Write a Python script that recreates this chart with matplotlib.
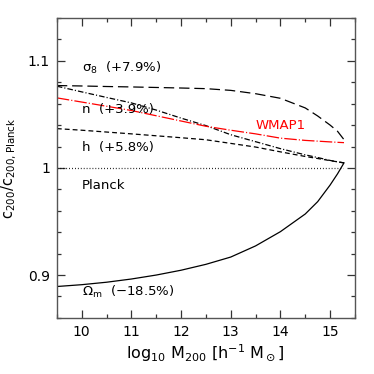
import numpy as np
import matplotlib
matplotlib.use('Agg')
import matplotlib.pyplot as plt
from matplotlib.ticker import MultipleLocator

plt.rcParams['font.family'] = 'DejaVu Sans'
plt.rcParams['mathtext.fontset'] = 'dejavusans'
plt.rcParams['mathtext.default'] = 'regular'
plt.rcParams['lines.scale_dashes'] = False

# log10 M200 grid
logm = [9.5, 10.0, 10.5, 11.0, 11.5, 12.0, 12.5, 13.0, 13.5, 14.0, 14.5, 14.75, 15.0, 15.15, 15.28]

# c200 / c200,Planck for each variation
sigma8 = [1.0769, 1.0765, 1.0760, 1.0756, 1.0751, 1.0746, 1.0740, 1.0724, 1.0693, 1.0650, 1.0560, 1.0485, 1.0400, 1.0342, 1.0264]
n_s    = [1.0763, 1.0710, 1.0658, 1.0607, 1.0540, 1.0465, 1.0395, 1.0310, 1.0245, 1.0180, 1.0122, 1.0097, 1.0070, 1.0057, 1.0047]
wmap1  = [1.0654, 1.0615, 1.0576, 1.0536, 1.0487, 1.0438, 1.0389, 1.0352, 1.0318, 1.0278, 1.0257, 1.0250, 1.0243, 1.0239, 1.0236]
h_par  = [1.0367, 1.0352, 1.0335, 1.0318, 1.0300, 1.0282, 1.0263, 1.0229, 1.0195, 1.0150, 1.0107, 1.0088, 1.0068, 1.0057, 1.0047]
omegam = [0.8893, 0.8910, 0.8933, 0.8963, 0.9000, 0.9045, 0.9100, 0.9168, 0.9272, 0.9405, 0.9570, 0.9685, 0.9840, 0.9945, 1.0047]

planck_x = [9.5, 15.25]
planck_y = [1.0, 1.0]

fig = plt.figure(figsize=(3.74, 3.74), dpi=100)
ax = fig.add_axes([0.152, 0.150, 0.797, 0.802])

lw = 0.9
ax.plot(planck_x, planck_y, color='k', lw=lw, dashes=(0.6, 1.5))
ax.plot(logm, sigma8, color='k', lw=lw, dashes=(7.5, 3.5))
ax.plot(logm, n_s, color='k', lw=lw, dashes=(4, 1.5, 0.8, 1.5))
ax.plot(logm, h_par, color='k', lw=lw, dashes=(3.5, 2.2))
ax.plot(logm, wmap1, color='red', lw=lw, dashes=(9, 1.5, 0.8, 1.5))
ax.plot(logm, omegam, color='k', lw=lw)

fs = 9.5
ax.text(10.0, 1.0937, r'$\sigma_8$  (+7.9%)', fontsize=fs, va='center')
ax.text(10.0, 1.0545, r'n  (+3.9%)', fontsize=fs, va='center')
ax.text(10.0, 1.0190, r'h  (+5.8%)', fontsize=fs, va='center')
ax.text(10.0, 0.9840, 'Planck', fontsize=fs, va='center')
ax.text(10.0, 0.8840, r'$\Omega_m$  ($-$18.5%)', fontsize=fs, va='center')
ax.text(13.5, 1.0395, 'WMAP1', fontsize=fs, va='center', color='red')

ax.set_xlim(9.5, 15.5)
ax.set_ylim(0.86, 1.14)
ax.xaxis.set_major_locator(MultipleLocator(1))
ax.xaxis.set_minor_locator(MultipleLocator(0.5))
ax.yaxis.set_minor_locator(MultipleLocator(0.02))
ax.set_yticks([0.9, 1.0, 1.1])
ax.set_yticklabels(['0.9', '1', '1.1'])
ax.tick_params(which='both', direction='in', top=True, right=True, labelsize=fs + 0.5, color='#333333')
ax.tick_params(which='major', length=6, width=0.9, pad=5)
ax.tick_params(which='minor', length=3, width=0.9)
for s in ax.spines.values():
    s.set_linewidth(1.0)
    s.set_color('#555555')

ax.set_xlabel(r'log$_{10}$ M$_{200}$ [h$^{-1}$ M$_\odot$]', fontsize=11.5, labelpad=3)
ax.set_ylabel(r'c$_{200}$/c$_{200,\mathrm{Planck}}$', fontsize=10.5, labelpad=6)

fig.savefig('out.png', dpi=100)
